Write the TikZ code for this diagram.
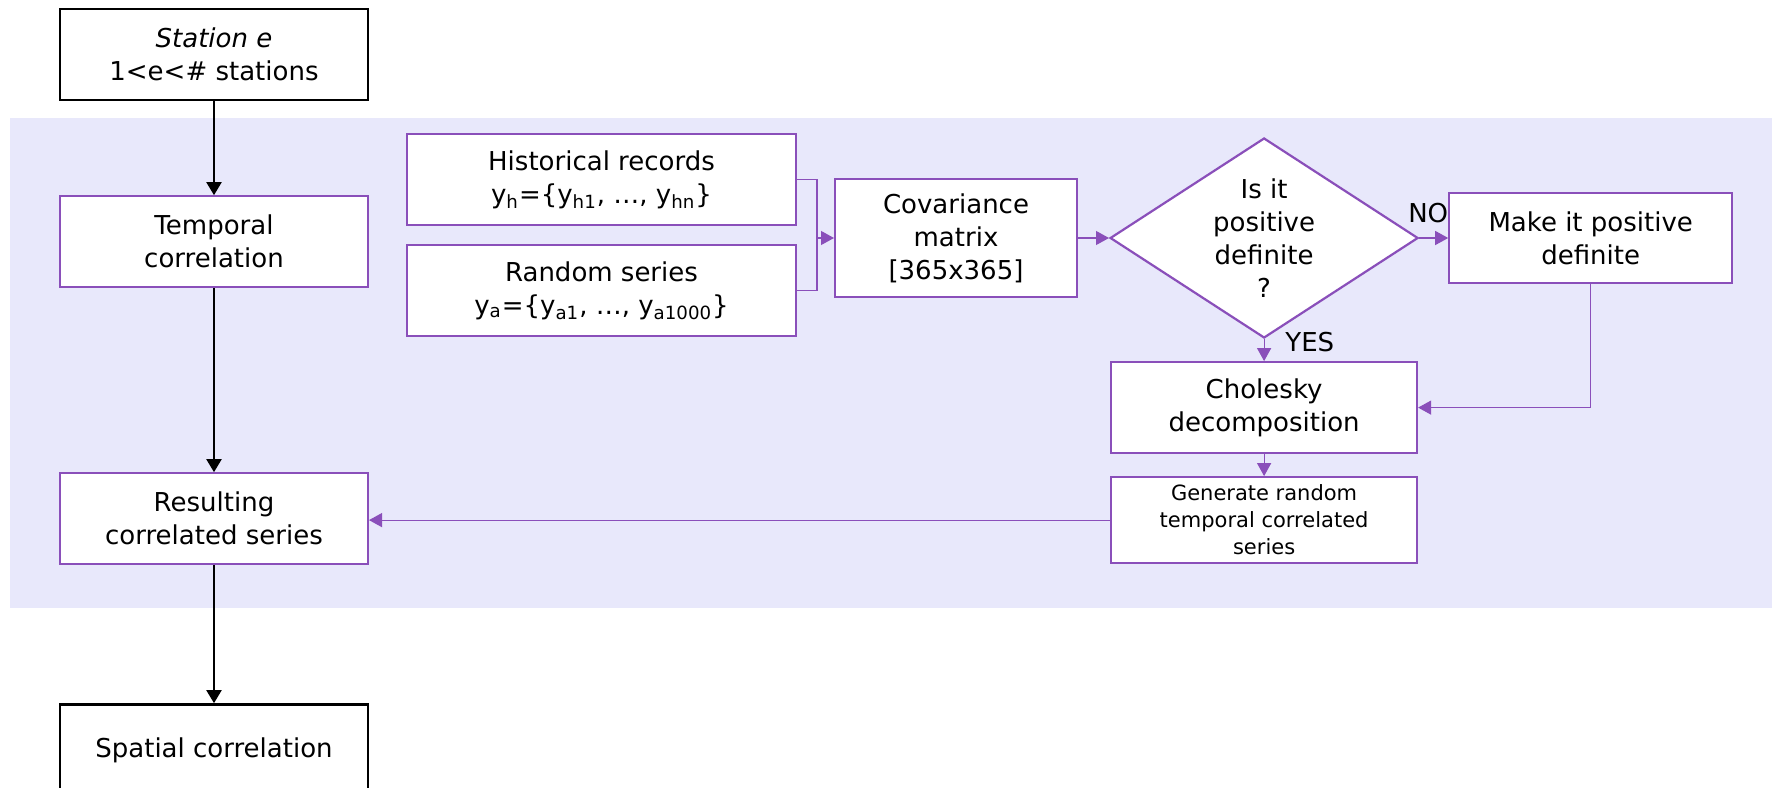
\documentclass[tikz,border=0pt]{standalone}
\usepackage{fontspec}
\setmainfont{DejaVu Sans}
\usetikzlibrary{arrows.meta,positioning,shapes.geometric}
\definecolor{TCorPurple}{HTML}{8A4FBA}
\definecolor{TCorLavender}{HTML}{E8E8FB}
\tikzset{
  tcorbox/.style={
    draw=TCorPurple,
    line width=1pt,
    fill=white,
    align=center,
    minimum width=154pt,
    minimum height=45.5pt,
    inner sep=2pt,
    font=\fontsize{13}{16.5}\selectfont
  },
  tcorouter/.style={
    tcorbox,
    draw=black,
    line width=1.2pt
  },
  tcordecide/.style={
    draw=TCorPurple,
    line width=1.1pt,
    fill=white,
    diamond,
    aspect=1.54,
    minimum width=154pt,
    minimum height=100pt,
    inner sep=0pt,
    align=center,
    font=\fontsize{13}{16.5}\selectfont
  },
  tcorflow/.style={-{Triangle[length=6.5pt,width=7.5pt]},draw=black,line width=1pt},
  tcorlink/.style={-{Triangle[length=6.5pt,width=7pt]},draw=TCorPurple,line width=0.6pt},
  tcorline/.style={draw=TCorPurple,line width=0.6pt},
  tcorlane/.style={fill=TCorLavender}
}

\begin{document}
\begin{tikzpicture}[x=0.5pt,y=-0.5pt]
  \useasboundingbox (0,0) rectangle (1772,787);
  \fill[tcorlane] (10,118) rectangle (1772,608);
  \node[tcorouter] (station) at (214,54.5) {\textit{Station e}\\1<e<\# stations};
  \node[tcorbox,below=47pt of station] (temporal) {Temporal\\correlation};
  \node[tcorbox,below=92pt of temporal] (result) {Resulting\\correlated series};
  \node[tcorouter,below=69pt of result] (spatial) {Spatial correlation};
  \node[tcorbox,minimum width=194.5pt] (hist) at (601.5,179.5) {Historical records\\y\textsubscript{h}=\{y\textsubscript{h1}, …, y\textsubscript{hn}\}};
  \node[tcorbox,minimum width=194.5pt,below=9pt of hist] (rand) {Random series\\y\textsubscript{a}=\{y\textsubscript{a1}, …, y\textsubscript{a1000}\}};
  \node[tcorbox,minimum width=121pt,minimum height=59pt] (cov) at (956,238) {Covariance\\matrix\\{[365x365]}};
  \node[tcordecide,right=15.5pt of cov] (decide) {Is it\\positive\\definite\\?};
  \node[tcorbox,right=14.5pt of decide,minimum width=141.5pt,minimum height=45pt] (make) {Make it positive\\definite};
  \node[tcorbox,below=11pt of decide,minimum width=153pt] (chol) {Cholesky\\decomposition};
  \node[tcorbox,below=11pt of chol,minimum width=153pt,minimum height=43pt,font=\fontsize{10.5}{13.5}\selectfont] (gen) {Generate random\\temporal correlated\\series};
  \path ([xshift=10pt]hist.east) coordinate (j0);
  \coordinate (join) at (j0 |- cov.west);
  \draw[tcorflow] (station) -- (temporal);
  \draw[tcorflow] (temporal) -- (result);
  \draw[tcorflow] (result) -- (spatial);
  \draw[tcorline] (hist.east) -| (join) |- (rand.east);
  \draw[tcorlink] (join) -- (cov);
  \draw[tcorlink] (cov) -- (decide);
  \draw[tcorlink] (decide) -- node[pos=0,above=4pt,xshift=4.5pt,font=\fontsize{13}{16.5}\selectfont] {NO} (make);
  \draw[tcorlink] (decide) -- node[pos=0,anchor=west,xshift=7pt,yshift=-1.5pt,font=\fontsize{13}{16.5}\selectfont] {YES} (chol);
  \draw[tcorlink] (make) |- (chol);
  \draw[tcorlink] (chol) -- (gen);
  \draw[tcorlink] (gen.west) -- (gen.west -| result.east);
\end{tikzpicture}
\end{document}
